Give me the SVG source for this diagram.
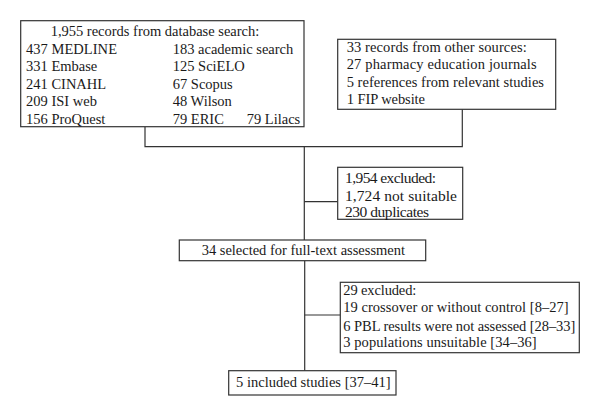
<svg xmlns="http://www.w3.org/2000/svg" width="600" height="416" viewBox="0 0 600 416">
<style>
.box{fill:#fff;stroke:#333;stroke-width:1.2}
.ln{fill:none;stroke:#333;stroke-width:1.2}
text{font-family:"Liberation Serif","Times New Roman",serif;font-size:14.5px;fill:#1a1a1a}
.big{font-size:15.5px}
</style>
<rect width="600" height="416" fill="#fff"/>
<g id="connectors">
<polyline class="ln" points="145,127 145,146.7 462.3,146.7 462.3,109.3"/>
<line class="ln" x1="304.3" y1="146.7" x2="304.3" y2="240"/>
<line class="ln" x1="304.3" y1="201.7" x2="337.7" y2="201.7"/>
<line class="ln" x1="304.7" y1="260.7" x2="304.7" y2="370.7"/>
<line class="ln" x1="304.7" y1="315" x2="340.3" y2="315"/>
</g>
<g id="db">
<rect class="box" x="20.7" y="20.7" width="283.3" height="106"/>
<text x="50.7" y="36" textLength="208.6">1,955 records from database search:</text>
<text x="26" y="53.5" textLength="91">437 MEDLINE</text>
<text x="26" y="71">331 Embase</text>
<text x="26" y="88.5">241 CINAHL</text>
<text x="26" y="106">209 ISI web</text>
<text x="26" y="123.5">156 ProQuest</text>
<text x="172.7" y="53.5" textLength="120.6">183 academic search</text>
<text x="172.7" y="71">125 SciELO</text>
<text x="172.7" y="88.5">67 Scopus</text>
<text x="172.7" y="106">48 Wilson</text>
<text x="172.7" y="123.5">79 ERIC</text>
<text x="246.7" y="123.5">79 Lilacs</text>
</g>
<g id="other">
<rect class="box" x="337.7" y="39.3" width="218" height="70"/>
<text x="346.7" y="51.7" textLength="180">33 records from other sources:</text>
<text x="346.7" y="69.2" textLength="190">27 pharmacy education journals</text>
<text x="346.7" y="86.7" textLength="197.3">5 references from relevant studies</text>
<text x="346.7" y="104.2" textLength="78.3">1 FIP website</text>
</g>
<g id="excl1">
<rect class="box" x="337.7" y="167.3" width="125" height="52"/>
<text class="big" x="345" y="183.3" textLength="91">1,954 excluded:</text>
<text class="big" x="345" y="200.8" textLength="112">1,724 not suitable</text>
<text class="big" x="345" y="217" textLength="84">230 duplicates</text>
</g>
<g id="selected">
<rect class="box" x="179.3" y="240" width="246.4" height="20.7"/>
<text x="201.7" y="255" textLength="203.3">34 selected for full-text assessment</text>
</g>
<g id="excl2">
<rect class="box" x="340.3" y="282.3" width="239" height="70.4"/>
<text x="343.3" y="295" textLength="73">29 excluded:</text>
<text x="343.3" y="311.7" textLength="225.3">19 crossover or without control [8–27]</text>
<text x="343.3" y="330.7" textLength="232">6 PBL results were not assessed [28–33]</text>
<text x="343.3" y="347.3" textLength="193.4">3 populations unsuitable [34–36]</text>
</g>
<g id="included">
<rect class="box" x="228.7" y="370.7" width="167.3" height="24.3"/>
<text x="236" y="387.3" textLength="154.7">5 included studies [37–41]</text>
</g>
</svg>
